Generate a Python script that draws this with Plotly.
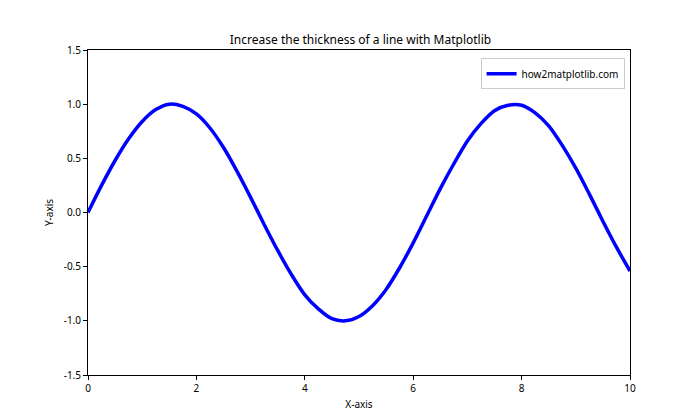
import plotly.graph_objects as go

x_vals = [0, 0.25, 0.5, 0.75, 1.0, 1.25, 1.5, 1.75, 2.0, 2.25, 2.5, 2.75, 3.0, 3.25, 3.5, 3.75,
          4.0, 4.25, 4.5, 4.75, 5.0, 5.25, 5.5, 5.75, 6.0, 6.25, 6.5, 6.75, 7.0, 7.25, 7.5, 7.75,
          8.0, 8.25, 8.5, 8.75, 9.0, 9.25, 9.5, 9.75, 10.0]
y_vals = [0.00, 0.25, 0.48, 0.68, 0.84, 0.95, 1.00, 0.98, 0.91, 0.78, 0.60, 0.38, 0.14, -0.11,
          -0.35, -0.57, -0.76, -0.89, -0.98, -1.00, -0.96, -0.86, -0.71, -0.51, -0.28, -0.03,
          0.22, 0.45, 0.66, 0.82, 0.94, 0.99, 0.99, 0.92, 0.80, 0.62, 0.41, 0.17, -0.08, -0.32, -0.54]
x_ticks = [0, 2, 4, 6, 8, 10]
y_ticks = [-1.5, -1.0, -0.5, 0.0, 0.5, 1.0, 1.5]

font = "Noto Sans"
fig = go.Figure()
fig.add_trace(go.Scatter(x=x_vals, y=y_vals, mode="lines", name="how2matplotlib.com",
                         line=dict(color="#0000ff", width=3.5, shape="spline", smoothing=0.8)))

axis_common = dict(showline=True, linecolor="black", linewidth=1, mirror=True,
                   ticks="outside", ticklen=4, tickcolor="black", showgrid=False,
                   zeroline=False, tickfont=dict(size=10, color="black", family=font))
fig.update_xaxes(range=[0, 10], tickvals=x_ticks, ticktext=[str(t) for t in x_ticks],
                 title=dict(text="X-axis", font=dict(size=10, color="black", family=font), standoff=6),
                 **axis_common)
fig.update_yaxes(range=[-1.5, 1.5], tickvals=y_ticks, ticktext=[f"{t:.1f}" for t in y_ticks],
                 title=dict(text="Y-axis", font=dict(size=10, color="black", family=font), standoff=8),
                 **axis_common)
fig.update_layout(
    width=700, height=420,
    margin=dict(l=88, r=70, t=50, b=45),
    paper_bgcolor="white", plot_bgcolor="white",
    title=dict(text="Increase the thickness of a line with Matplotlib", x=0.515, xanchor="center",
               y=0.905, yanchor="middle", font=dict(size=12, color="black", family=font)),
    showlegend=True,
    legend=dict(x=0.99, y=0.975, xanchor="right", yanchor="top", bordercolor="#cccccc",
                borderwidth=1, bgcolor="white", font=dict(size=10, color="black", family=font)),
)
fig.write_html("out.html")
